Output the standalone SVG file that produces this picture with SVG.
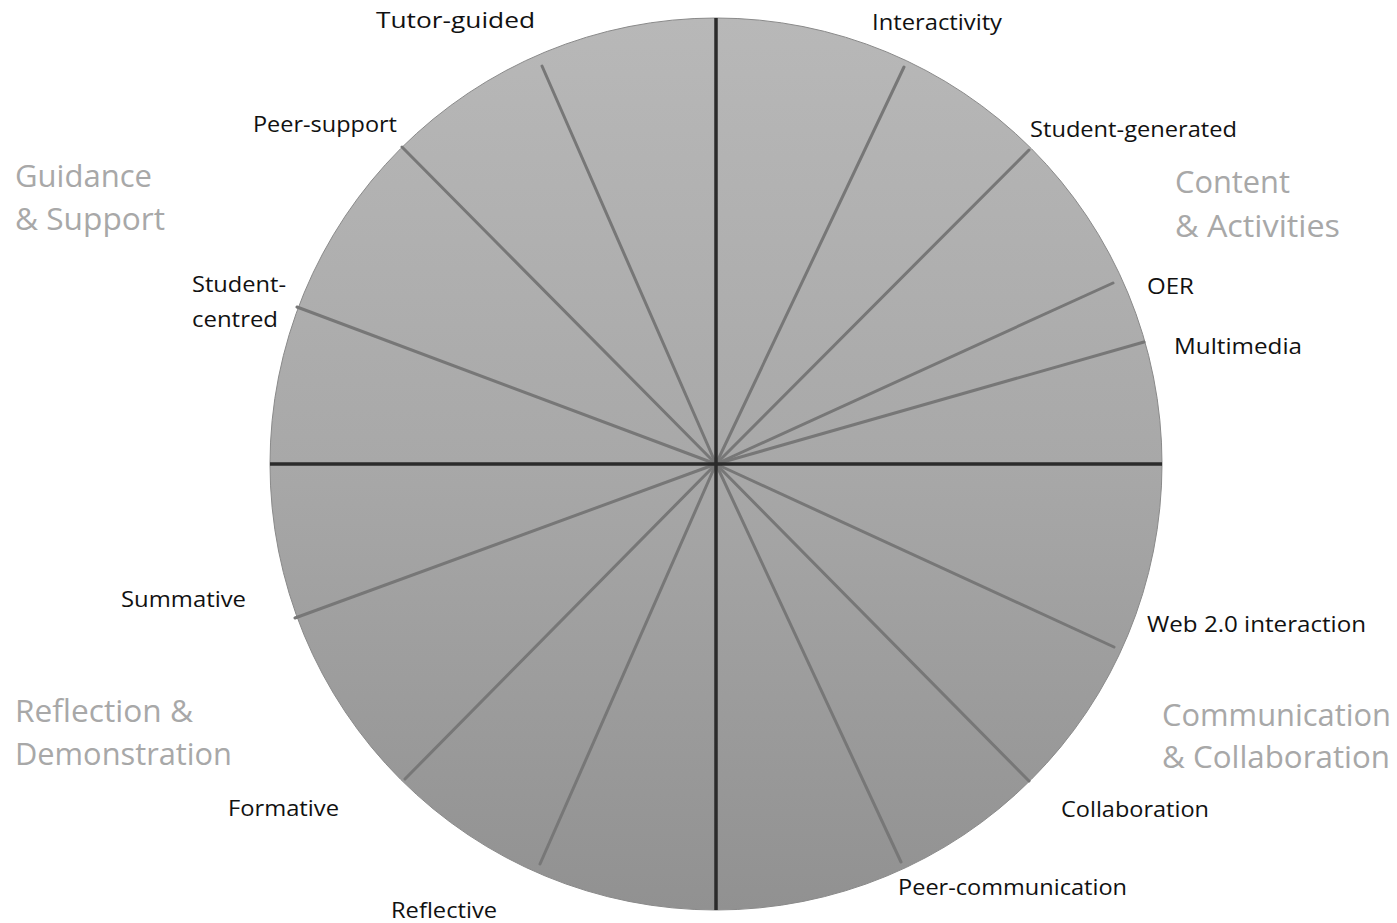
<svg xmlns="http://www.w3.org/2000/svg" width="1397" height="923" viewBox="0 0 1397 923">
<style>
.lbl{font-family:"Open Sans",Lato,"Liberation Sans",sans-serif;font-size:21.5px;fill:#111}
.cat{font-family:"Open Sans",Lato,"Liberation Sans",sans-serif;font-size:31px;fill:#a8a8a8}
.spoke{stroke:#777777;stroke-width:3;fill:none;stroke-linecap:round}
.axis{stroke:#2b2b2b;stroke-width:3.5;fill:none}
</style>
<defs>
<linearGradient id="fillg" x1="0" y1="0" x2="0" y2="1">
<stop offset="0" stop-color="#b8b8b8"/>
<stop offset="0.5" stop-color="#a8a8a8"/>
<stop offset="1" stop-color="#919191"/>
</linearGradient>
</defs>
<rect width="1397" height="923" fill="#ffffff"/>
<g id="wheel">
<circle cx="716" cy="464" r="446" fill="url(#fillg)" stroke="#8a8a8a" stroke-width="1"/>
</g>
<g id="connectors">
<line class="spoke" x1="716" y1="464" x2="542" y2="66"/>
<line class="spoke" x1="716" y1="464" x2="402" y2="147"/>
<line class="spoke" x1="716" y1="464" x2="297" y2="307"/>
<line class="spoke" x1="716" y1="464" x2="904" y2="67"/>
<line class="spoke" x1="716" y1="464" x2="1029" y2="150"/>
<line class="spoke" x1="716" y1="464" x2="1113" y2="283"/>
<line class="spoke" x1="716" y1="464" x2="1144" y2="342"/>
<line class="spoke" x1="716" y1="464" x2="295" y2="618"/>
<line class="spoke" x1="716" y1="464" x2="405" y2="779"/>
<line class="spoke" x1="716" y1="464" x2="540" y2="864"/>
<line class="spoke" x1="716" y1="464" x2="1114" y2="647"/>
<line class="spoke" x1="716" y1="464" x2="1029" y2="781"/>
<line class="spoke" x1="716" y1="464" x2="901" y2="862"/>
<line class="axis" x1="716" y1="18" x2="716" y2="910"/>
<line class="axis" x1="270" y1="464" x2="1162" y2="464"/>
</g>
<g id="cat-guidance"><text class="cat" x="15" y="187" textLength="137" lengthAdjust="spacingAndGlyphs">Guidance</text><text class="cat" x="15" y="230" textLength="150" lengthAdjust="spacingAndGlyphs">&amp; Support</text></g>
<g id="cat-content"><text class="cat" x="1175" y="193" textLength="115" lengthAdjust="spacingAndGlyphs">Content</text><text class="cat" x="1175" y="237" textLength="165" lengthAdjust="spacingAndGlyphs">&amp; Activities</text></g>
<g id="cat-reflection"><text class="cat" x="15" y="722" textLength="178" lengthAdjust="spacingAndGlyphs">Reflection &amp;</text><text class="cat" x="15" y="765" textLength="217" lengthAdjust="spacingAndGlyphs">Demonstration</text></g>
<g id="cat-communication"><text class="cat" x="1162" y="726" textLength="229" lengthAdjust="spacingAndGlyphs">Communication</text><text class="cat" x="1162" y="768" textLength="228" lengthAdjust="spacingAndGlyphs">&amp; Collaboration</text></g>
<g id="n-tutor"><text class="lbl" x="376" y="28" textLength="159" lengthAdjust="spacingAndGlyphs">Tutor-guided</text></g>
<g id="n-interactivity"><text class="lbl" x="872" y="30" textLength="130" lengthAdjust="spacingAndGlyphs">Interactivity</text></g>
<g id="n-peer-support"><text class="lbl" x="253" y="132" textLength="144" lengthAdjust="spacingAndGlyphs">Peer-support</text></g>
<g id="n-student-generated"><text class="lbl" x="1030" y="137" textLength="207" lengthAdjust="spacingAndGlyphs">Student-generated</text></g>
<g id="n-student-centred"><text class="lbl" x="192" y="292" textLength="94" lengthAdjust="spacingAndGlyphs">Student-</text><text class="lbl" x="192" y="327" textLength="86" lengthAdjust="spacingAndGlyphs">centred</text></g>
<g id="n-oer"><text class="lbl" x="1147" y="294" textLength="47" lengthAdjust="spacingAndGlyphs">OER</text></g>
<g id="n-multimedia"><text class="lbl" x="1174" y="354" textLength="128" lengthAdjust="spacingAndGlyphs">Multimedia</text></g>
<g id="n-summative"><text class="lbl" x="121" y="607" textLength="125" lengthAdjust="spacingAndGlyphs">Summative</text></g>
<g id="n-web20"><text class="lbl" x="1147" y="632" textLength="219" lengthAdjust="spacingAndGlyphs">Web 2.0 interaction</text></g>
<g id="n-formative"><text class="lbl" x="228" y="816" textLength="111" lengthAdjust="spacingAndGlyphs">Formative</text></g>
<g id="n-collaboration"><text class="lbl" x="1061" y="817" textLength="148" lengthAdjust="spacingAndGlyphs">Collaboration</text></g>
<g id="n-peer-communication"><text class="lbl" x="898" y="895" textLength="229" lengthAdjust="spacingAndGlyphs">Peer-communication</text></g>
<g id="n-reflective"><text class="lbl" x="391" y="918" textLength="106" lengthAdjust="spacingAndGlyphs">Reflective</text></g>
</svg>
